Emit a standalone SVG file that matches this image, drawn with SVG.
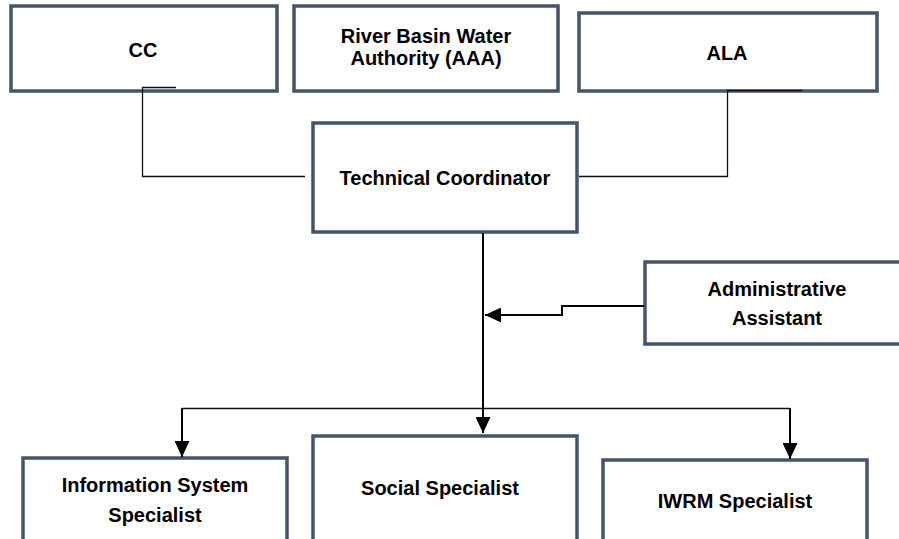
<svg xmlns="http://www.w3.org/2000/svg" width="899" height="539" viewBox="0 0 899 539">
<defs>
<style>
.box{fill:#fff;stroke:#44546a;stroke-width:3.5}
.t{font-family:"Liberation Sans",Arial,sans-serif;font-weight:bold;font-size:20px;fill:#000;text-anchor:middle}
.thin{fill:none;stroke:#111;stroke-width:1.3}
.thick{fill:none;stroke:#000;stroke-width:2}
</style>
<marker id="arr" markerUnits="userSpaceOnUse" markerWidth="16" markerHeight="15" refX="16" refY="7.5" orient="auto" viewBox="0 0 16 15">
<path d="M0,0 L16,7.5 L0,15 z" fill="#000"/>
</marker>
</defs>
<rect width="899" height="539" fill="#fff"/>
<g id="cc"><rect class="box" x="11" y="6" width="266" height="85"/><text class="t" x="143" y="57">CC</text></g>
<g id="rbwa"><rect class="box" x="294" y="6" width="264" height="85"/><text class="t" x="426" y="43">River Basin Water</text><text class="t" x="426" y="65">Authority (AAA)</text></g>
<g id="ala"><rect class="box" x="579" y="13" width="298" height="78"/><text class="t" x="727" y="60">ALA</text></g>
<g id="tc"><rect class="box" x="313" y="123" width="264" height="109"/><text class="t" x="445" y="185">Technical Coordinator</text></g>
<g id="aa"><rect class="box" x="645" y="262" width="260" height="82"/><text class="t" x="777" y="296">Administrative</text><text class="t" x="777" y="325">Assistant</text></g>
<g id="is"><rect class="box" x="23" y="458" width="264" height="90"/><text class="t" x="155" y="492">Information System</text><text class="t" x="155" y="522">Specialist</text></g>
<g id="ss"><rect class="box" x="313" y="436" width="264" height="110"/><text class="t" x="440" y="495">Social Specialist</text></g>
<g id="iwrm"><rect class="box" x="603" y="460" width="264" height="90"/><text class="t" x="735" y="508">IWRM Specialist</text></g>
<g id="connectors">
<path class="thin" d="M176,87.5 H142.5 V176.5 H305"/>
<path class="thin" d="M802,90.5 H727.5 V176.5 H579"/>
<path class="thick" d="M483,233 V433" marker-end="url(#arr)"/>
<path class="thick" d="M644,306 H562 V315 H485" marker-end="url(#arr)"/>
<path class="thin" d="M182,408.5 H790"/>
<path class="thick" d="M182,408 V457" marker-end="url(#arr)"/>
<path class="thick" d="M790,408 V459" marker-end="url(#arr)"/>
</g>
</svg>
